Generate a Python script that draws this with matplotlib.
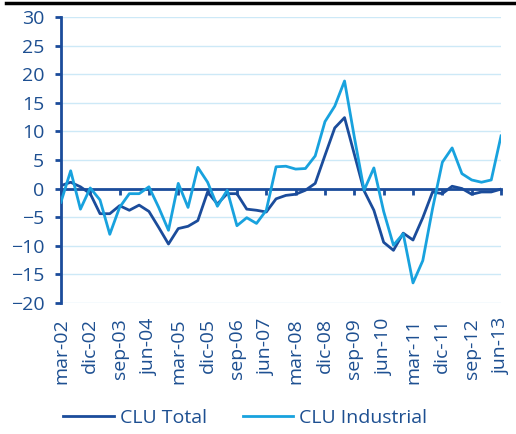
import matplotlib.pyplot as plt
from matplotlib.lines import Line2D

plt.rcParams['font.family'] = ['Open Sans', 'DejaVu Sans']

months = ['mar', 'jun', 'sep', 'dic']
quarters = [f'{months[q % 4]}-{(2 + q // 4):02d}' for q in range(46)]

clu_total = [0.5, 1.1, 0.3, -0.9, -4.4, -4.4, -3.0, -3.8, -2.9, -4.0,
             -6.8, -9.7, -7.0, -6.6, -5.6, -0.6, -2.7, -0.9, -0.9, -3.6,
             -3.8, -4.1, -1.8, -1.2, -1.0, -0.3, 0.9, 5.8, 10.6, 12.4,
             6.0, -0.4, -3.8, -9.4, -10.8, -7.8, -9.0, -5.1, -0.6, -0.9,
             0.4, 0.0, -1.0, -0.6, -0.6, -0.1]
clu_industrial = [-2.4, 3.1, -3.6, 0.1, -2.0, -8.0, -3.3, -0.9, -0.9, 0.3,
                  -3.3, -7.3, 0.9, -3.3, 3.7, 1.1, -3.1, -0.3, -6.5, -5.1,
                  -6.1, -3.8, 3.8, 3.9, 3.4, 3.5, 5.7, 11.7, 14.4, 18.8,
                  9.0, -0.3, 3.6, -4.0, -9.9, -7.9, -16.5, -12.6, -3.5, 4.6,
                  7.1, 2.6, 1.5, 1.1, 1.5, 9.2]

dark = '#1b4c9b'
light = '#18a2de'
txt = '#1d4f91'
grid = '#cde9f7'
fs = 14

fig = plt.figure(figsize=(5.16, 4.34), dpi=100)
ax = fig.add_axes([0.118, 0.302, 0.853, 0.659])

x = list(range(len(quarters)))
ax.plot(x, clu_total, color=dark, lw=2, label='CLU Total', zorder=3)
ax.plot(x, clu_industrial, color=light, lw=2, label='CLU Industrial', zorder=3)

ax.set_xlim(0, len(quarters) - 1)
ax.set_ylim(-20, 30)
ax.set_yticks(range(-20, 31, 5))
ax.yaxis.grid(True, color=grid, lw=1)
ax.set_axisbelow(True)

for s in ['top', 'right']:
    ax.spines[s].set_visible(False)
ax.spines['left'].set_color(dark)
ax.spines['left'].set_linewidth(2)
ax.spines['bottom'].set_position(('data', 0))
ax.spines['bottom'].set_color(dark)
ax.spines['bottom'].set_linewidth(2)
ax.spines['bottom'].set_zorder(2)

ticks = x[::3]
ax.set_xticks(ticks)
ax.tick_params(axis='x', direction='out', length=4, width=2, color=dark,
               labelbottom=False)
ax.tick_params(axis='y', direction='out', length=4, width=2, color=dark,
               labelcolor=txt, labelsize=fs, pad=8)

sec = ax.secondary_xaxis(0)
sec.set_xticks(ticks)
sec.set_xticklabels([quarters[i] for i in ticks], rotation=90)
sec.tick_params(length=0, labelcolor=txt, labelsize=fs, pad=11)
sec.spines['bottom'].set_visible(False)

fig.legend(loc='center', bbox_to_anchor=(0.475, 0.037), ncol=2, frameon=False,
           fontsize=fs, labelcolor=txt, handlelength=2.6, handletextpad=0.3,
           columnspacing=1.85)

fig.add_artist(Line2D([0.012, 1.0], [0.993, 0.993], color='black', lw=2.5,
                      transform=fig.transFigure))

fig.savefig('out.png', dpi=100)
